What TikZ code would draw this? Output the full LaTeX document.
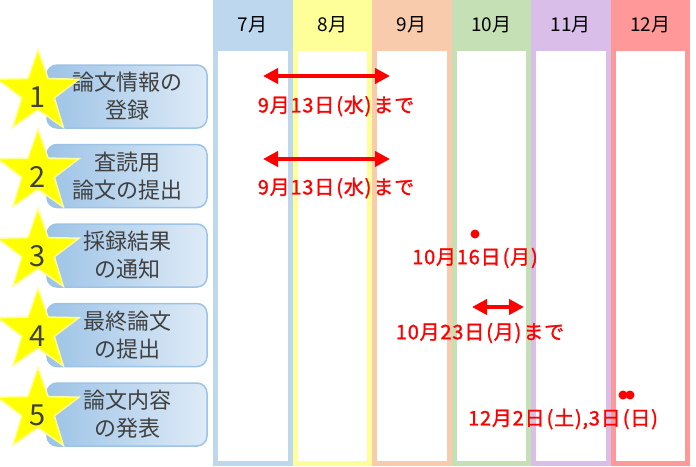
\documentclass[tikz,border=0pt]{standalone}
\usepackage{fontspec}
\newfontfamily\jp{Noto Sans CJK JP}
\newfontfamily\jpred[FakeBold=1.2,LetterSpace=4]{Noto Sans CJK JP}
\usetikzlibrary{shapes.geometric,arrows.meta}
\definecolor{cJul}{HTML}{BDD7EE}
\definecolor{cAug}{HTML}{FFFF99}
\definecolor{cSep}{HTML}{F8CBAD}
\definecolor{cOct}{HTML}{C5E0B4}
\definecolor{cNov}{HTML}{D9BEEA}
\definecolor{cDec}{HTML}{FF9999}
\definecolor{boxL}{HTML}{9DC3E6}
\definecolor{boxR}{HTML}{DEEBF7}
\definecolor{boxB}{HTML}{9DC3E6}
\definecolor{txtG}{HTML}{404040}
\definecolor{starY}{HTML}{FFFF00}
\definecolor{starB}{HTML}{FFFF99}
\newcommand{\lp}{\kern2pt(}
\newcommand{\rp}{)\kern2pt}
\tikzset{
  monthlbl/.style={font=\jp\fontsize{19}{21}\selectfont, text=black, inner sep=0pt},
  stepbox/.style={left color=boxL, right color=boxR, draw=boxB, line width=1.5pt,
    rounded corners=10pt, minimum width=160pt, minimum height=63pt, inner sep=0pt},
  boxtext/.style={font=\jp\fontsize{22}{28}\selectfont, text=txtG, align=center, inner sep=0pt},
  starshape/.style={star, star points=5, star point ratio=2.5, fill=starY, draw=starB,
    line width=1.5pt, minimum size=86pt, inner sep=0pt},
  stardigit/.style={font=\jp\fontsize{29}{30}\selectfont, text=txtG, inner sep=0pt},
  redlbl/.style={font=\jpred\fontsize{20}{22}\selectfont, text=red, inner sep=0pt},
  span/.style={draw=red, line width=4pt, {Triangle[length=15pt,width=15pt]}-{Triangle[length=15pt,width=15pt]}},
  dotmark/.style={circle, fill=red, minimum size=9pt, inner sep=0pt},
}
\begin{document}
\begin{tikzpicture}[x=1pt,y=-1pt]
\useasboundingbox (0,0) rectangle (696,466);
\fill[white] (0,0) rectangle (696,466);
% month columns
\foreach \c/\lbl [count=\i from 0] in {cJul/7月,cAug/8月,cSep/9月,cOct/10月,cNov/11月,cDec/12月}{
  \pgfmathsetmacro{\xl}{213+79.5*\i}
  \fill[\c] (\xl,0) rectangle ++(79.5,466);
  \fill[white] (\xl+5,51) rectangle ++(69.5,410);
  \node[monthlbl] (m\i) at (\xl+39.75,25) {\lbl};
}
% step boxes
\foreach \t/\n [count=\i from 0] in {{論文情報の\\登録}/1,{査読用\\論文の提出}/2,{採録結果\\の通知}/3,{最終論文\\の提出}/4,{論文内容\\の発表}/5}{
  \pgfmathsetmacro{\yc}{96.5+79.5*\i}
  \node[stepbox] (b\n) at (127,\yc) {};
  \node[boxtext] (t\n) at (127,\yc) {\t};
  \node[starshape] (s\n) at (38,\yc-4) {};
  \node[stardigit] (d\n) at (38,\yc+1) {\n};
}
% row 1
\coordinate (a1l) at (263,76);
\coordinate (a1r) at (390,76);
\draw[span] (a1l) -- (a1r);
\node[redlbl] (l1) at (336,106) {9月13日\lp 水\rp まで};
% row 2
\coordinate (a2l) at (263,159);
\coordinate (a2r) at (390,159);
\draw[span] (a2l) -- (a2r);
\node[redlbl] (l2) at (336,188) {9月13日\lp 水\rp まで};
% row 3
\node[dotmark] (p3) at (475,234) {};
\node[redlbl] (l3) at (475,258) {10月16日\lp 月)};
% row 4
\coordinate (a4l) at (472,307);
\coordinate (a4r) at (524,307);
\draw[span] (a4l) -- (a4r);
\node[redlbl] (l4) at (480,333) {10月23日\lp 月\rp まで};
% row 5
\node[dotmark] (p5a) at (623,395) {};
\node[dotmark] (p5b) at (630,395) {};
\node[redlbl] (l5) at (563,419) {12月2日\lp 土),3日\lp 日)};
\end{tikzpicture}
\end{document}
